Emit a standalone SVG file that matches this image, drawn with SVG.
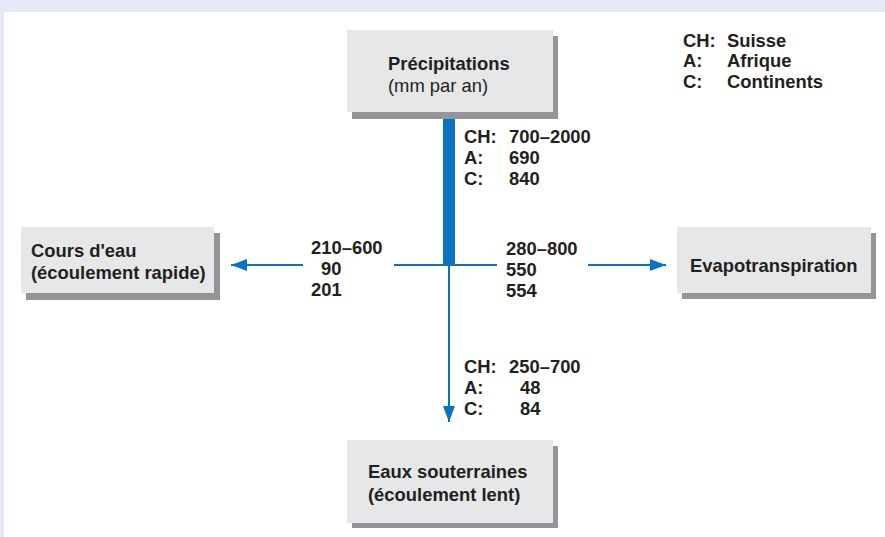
<svg xmlns="http://www.w3.org/2000/svg" width="885" height="537" viewBox="0 0 885 537">
<style>
.bx{fill:#e6e7e8}
.sh{fill:#939598}
.t{font-family:"Liberation Sans",Arial,sans-serif;font-size:18.4px;fill:#231f20}
.b{font-weight:bold}
.ln{stroke:#0a74c0;stroke-width:2;fill:none}
</style>
<defs>
<marker id="ah" markerUnits="userSpaceOnUse" markerWidth="18" markerHeight="14" refX="16" refY="6" orient="auto">
<path d="M0,0 L16,6 L0,12 Z" fill="#0a74c0"/>
</marker>
</defs>
<rect x="0" y="0" width="885" height="537" fill="#e3e9f6"/>
<rect x="4" y="12" width="881" height="525" fill="#ffffff"/>
<g id="connectors">
<rect x="443" y="112" width="12" height="153" fill="#0a74c0"/>
<line class="ln" x1="394" y1="265" x2="497" y2="265"/>
<line class="ln" x1="303" y1="265" x2="231" y2="265" marker-end="url(#ah)"/>
<line class="ln" x1="588" y1="265" x2="666" y2="265" marker-end="url(#ah)"/>
<line class="ln" x1="449" y1="265" x2="449" y2="422" marker-end="url(#ah)"/>
</g>
<g id="precipitations">
<rect class="sh" x="352" y="36" width="206" height="83"/>
<rect class="bx" x="347" y="30" width="206" height="82"/>
<text class="t b" x="388" y="70">Précipitations</text>
<text class="t" x="388" y="92">(mm par an)</text>
</g>
<g id="cours">
<rect class="sh" x="26" y="233" width="194" height="67"/>
<rect class="bx" x="21" y="227" width="193" height="66"/>
<text class="t b" x="31" y="257">Cours d'eau</text>
<text class="t b" x="31" y="279">(écoulement rapide)</text>
</g>
<g id="evapo">
<rect class="sh" x="682" y="233" width="194" height="66"/>
<rect class="bx" x="677" y="227" width="194" height="66"/>
<text class="t b" x="690" y="272">Evapotranspiration</text>
</g>
<g id="eaux">
<rect class="sh" x="352" y="446" width="206" height="82"/>
<rect class="bx" x="347" y="440" width="206" height="83"/>
<text class="t b" x="368" y="478">Eaux souterraines</text>
<text class="t b" x="368" y="501">(écoulement lent)</text>
</g>
<g id="labels" class="t b">
<text x="464" y="143">CH:</text><text x="509" y="143">700–2000</text>
<text x="464" y="164">A:</text><text x="509" y="164">690</text>
<text x="464" y="185">C:</text><text x="509" y="185">840</text>
<text x="311" y="254">210–600</text>
<text x="321" y="275">90</text>
<text x="311" y="296">201</text>
<text x="506" y="255">280–800</text>
<text x="506" y="276">550</text>
<text x="506" y="297">554</text>
<text x="464" y="373">CH:</text><text x="509" y="373">250–700</text>
<text x="464" y="394">A:</text><text x="520" y="394">48</text>
<text x="464" y="415">C:</text><text x="520" y="415">84</text>
</g>
<g id="legend" class="t b">
<text x="683" y="47">CH:</text><text x="727" y="47">Suisse</text>
<text x="683" y="67">A:</text><text x="727" y="67">Afrique</text>
<text x="683" y="88">C:</text><text x="727" y="88">Continents</text>
</g>
</svg>
